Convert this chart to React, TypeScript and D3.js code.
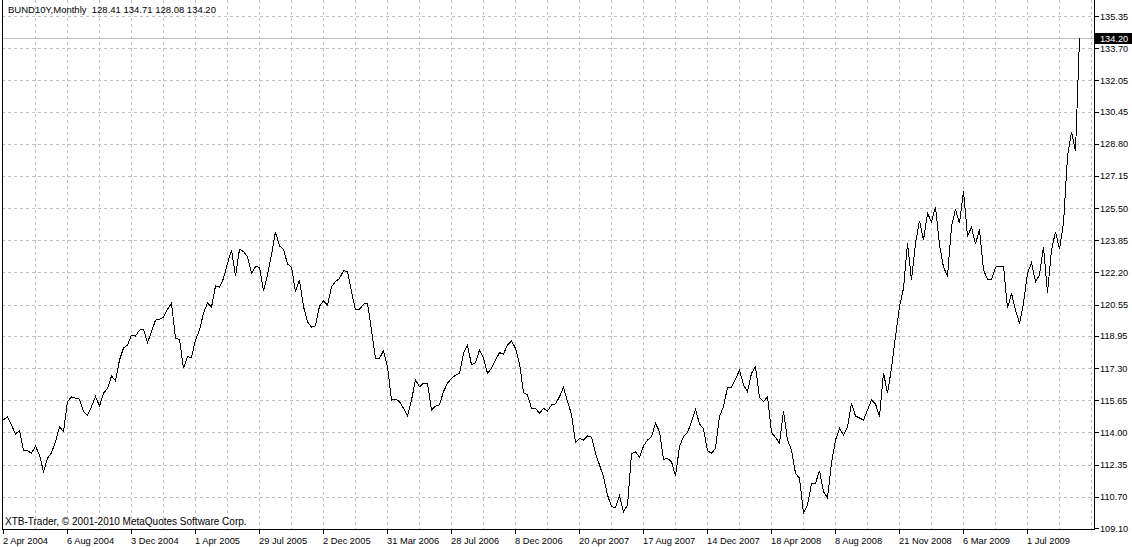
import React, { useRef, useEffect } from 'react';
import * as d3 from 'd3';

// header / info texts
const symbolName = "BUND10Y,Monthly";
const lastBar = ["128.41", "134.71", "128.08", "134.20"];
const copyright = "XTB-Trader, \u00A9 2001-2010 MetaQuotes Software Corp.";

// close of every bar, left to right
const closes = [
    114.64, 114.81, 114.38, 113.92, 114.09, 113.06, 113.06, 112.93, 113.30, 112.84,
    111.99, 112.67, 112.96, 113.52, 114.29, 114.04, 115.58, 115.83, 115.75, 115.71,
    115.06, 114.89, 115.32, 115.83, 115.35, 116.01, 116.26, 116.89, 116.65, 117.71,
    118.33, 118.48, 118.99, 118.94, 119.25, 119.29, 118.60, 119.16, 119.76, 119.80,
    119.90, 120.31, 120.62, 118.83, 118.77, 117.29, 117.88, 117.85, 118.74, 119.25,
    120.11, 120.65, 120.42, 121.51, 121.44, 121.90, 122.67, 123.35, 122.02, 123.39,
    123.27, 123.01, 122.16, 122.50, 122.47, 121.27, 122.07, 123.10, 124.29, 123.56,
    123.39, 122.64, 122.47, 121.22, 121.81, 120.45, 119.68, 119.39, 119.46, 120.48,
    120.75, 120.53, 121.47, 121.73, 121.90, 122.29, 122.24, 121.22, 120.28, 120.31,
    120.58, 120.62, 119.25, 117.80, 117.80, 118.19, 117.37, 115.66, 115.70, 115.58,
    115.24, 114.84, 115.66, 116.69, 116.34, 116.52, 116.52, 115.15, 115.35, 115.42,
    116.09, 116.52, 116.77, 116.94, 117.03, 118.06, 118.48, 117.46, 117.57, 118.23,
    117.80, 117.03, 117.29, 117.71, 118.09, 118.02, 118.48, 118.70, 118.31, 117.54,
    116.04, 115.92, 115.24, 115.24, 114.98, 115.24, 115.10, 115.41, 115.46, 115.83,
    116.31, 115.58, 114.94, 113.47, 113.70, 113.61, 113.82, 113.75, 112.93, 112.33,
    111.73, 110.79, 110.19, 110.16, 110.74, 109.94, 110.28, 112.89, 113.01, 112.72,
    113.30, 113.61, 113.78, 114.47, 114.04, 112.62, 112.67, 112.50, 111.77, 113.27,
    113.78, 113.99, 114.55, 115.19, 114.43, 114.18, 113.07, 112.93, 113.19, 114.81,
    115.32, 116.31, 116.31, 116.72, 117.20, 116.43, 116.09, 117.03, 117.37, 115.80,
    115.58, 115.83, 113.99, 113.75, 113.44, 115.11, 113.61, 113.10, 111.90, 111.65,
    109.88, 110.28, 111.36, 111.39, 112.04, 110.96, 110.65, 112.42, 113.61, 114.21,
    113.87, 114.29, 115.51, 114.84, 114.74, 114.64, 115.15, 115.66, 115.46, 114.81,
    117.06, 116.01, 117.29, 118.91, 120.45, 121.39, 123.70, 121.81, 123.70, 124.86,
    123.87, 125.23, 124.80, 125.57, 123.61, 122.47, 122.02, 124.55, 125.44, 124.72,
    126.39, 124.07, 124.52, 123.66, 124.41, 122.33, 121.85, 121.85, 122.47, 122.53,
    122.53, 120.36, 121.13, 120.28, 119.59, 120.62, 122.16, 122.70, 121.73, 122.07,
    123.52, 121.16, 123.35, 124.29, 123.39, 124.72, 128.14, 129.42, 128.41, 134.20
];

// one date label every 16 bars
const dateLabels = [
    "2 Apr 2004", "6 Aug 2004", "3 Dec 2004", "1 Apr 2005", "29 Jul 2005",
    "2 Dec 2005", "31 Mar 2006", "28 Jul 2006", "8 Dec 2006", "20 Apr 2007",
    "17 Aug 2007", "14 Dec 2007", "18 Apr 2008", "8 Aug 2008", "21 Nov 2008",
    "6 Mar 2009", "1 Jul 2009"
];

const priceLabels = [
    "135.35", "133.70", "132.05", "130.45", "128.80", "127.15", "125.50", "123.85",
    "122.20", "120.55", "118.95", "117.30", "115.65", "114.00", "112.35", "110.70", "109.10"
];

const width = 1132;
const height = 547;
const frame = { left: 2, right: 1094, top: 0, bottom: 529 };
const font = "'Liberation Sans', Arial, sans-serif";

export default function App() {
    const svgRef = useRef(null);

    useEffect(() => {
        if (!svgRef.current) return;
        const svg = d3.select(svgRef.current);
        svg.selectAll("*").remove();

        const xScale = d3.scaleLinear()
            .domain([0, closes.length - 1])
            .range([3, 3 + 4 * (closes.length - 1)]);
        const yScale = d3.scaleLinear()
            .domain([109.10, 135.35])
            .range([528, 16]);

        svg.append("rect")
            .attr("width", width).attr("height", height).attr("fill", "white");

        /* dashed grid */
        const grid = svg.append("g")
            .attr("stroke", "#c0c0c0")
            .attr("stroke-dasharray", "3,3")
            .attr("shape-rendering", "crispEdges");
        const vIdx: number[] = [];
        for (let i = 8; xScale(i) < frame.right; i += 8) vIdx.push(i);
        grid.selectAll("line.v").data(vIdx).enter().append("line")
            .attr("x1", d => Math.round(xScale(d)) + 0.5)
            .attr("x2", d => Math.round(xScale(d)) + 0.5)
            .attr("y1", frame.top).attr("y2", frame.bottom);
        grid.selectAll("line.h").data(priceLabels.slice(0, -1)).enter().append("line")
            .attr("x1", frame.left).attr("x2", frame.right)
            .attr("y1", d => Math.round(yScale(+d)) + 0.5)
            .attr("y2", d => Math.round(yScale(+d)) + 0.5);

        /* current price line */
        const last = closes[closes.length - 1];
        svg.append("line")
            .attr("x1", frame.left).attr("x2", frame.right)
            .attr("y1", Math.round(yScale(last)) + 0.5)
            .attr("y2", Math.round(yScale(last)) + 0.5)
            .attr("stroke", "#c0c0c0")
            .attr("shape-rendering", "crispEdges");

        /* price line */
        const line = d3.line<number>()
            .x((d, i) => xScale(i) + 0.5)
            .y(d => yScale(d));
        svg.append("path")
            .datum(closes)
            .attr("d", line)
            .attr("fill", "none")
            .attr("stroke", "black")
            .attr("stroke-width", 1)
            .attr("shape-rendering", "crispEdges");

        /* frame */
        const axes = svg.append("g")
            .attr("stroke", "black")
            .attr("shape-rendering", "crispEdges");
        axes.append("line")
            .attr("x1", frame.left + 0.5).attr("x2", frame.left + 0.5)
            .attr("y1", frame.top).attr("y2", frame.bottom + 0.5);
        axes.append("line")
            .attr("x1", frame.right + 0.5).attr("x2", frame.right + 0.5)
            .attr("y1", frame.top).attr("y2", frame.bottom + 0.5);
        axes.append("line")
            .attr("x1", frame.left).attr("x2", frame.right + 1)
            .attr("y1", frame.bottom + 0.5).attr("y2", frame.bottom + 0.5);

        /* price axis */
        axes.selectAll("line.yt").data(priceLabels).enter().append("line")
            .attr("x1", frame.right).attr("x2", frame.right + 5)
            .attr("y1", d => Math.round(yScale(+d)) + 0.5)
            .attr("y2", d => Math.round(yScale(+d)) + 0.5);
        svg.append("g").selectAll("text").data(priceLabels).enter().append("text")
            .attr("x", frame.right + 6)
            .attr("y", d => yScale(+d) + 3.5)
            .attr("font-family", font)
            .attr("font-size", 9.2)
            .attr("fill", "black")
            .text(d => d);

        /* time axis */
        axes.selectAll("line.xt").data(dateLabels).enter().append("line")
            .attr("x1", (d, i) => Math.round(xScale(i * 16)) + 0.5)
            .attr("x2", (d, i) => Math.round(xScale(i * 16)) + 0.5)
            .attr("y1", frame.bottom).attr("y2", frame.bottom + 5);
        svg.append("g").selectAll("text").data(dateLabels).enter().append("text")
            .attr("x", (d, i) => xScale(i * 16))
            .attr("y", 544)
            .attr("font-family", font)
            .attr("font-size", 9.3)
            .attr("fill", "black")
            .text(d => d);

        /* last price marker */
        const ly = yScale(last);
        svg.append("rect")
            .attr("x", frame.right + 1).attr("y", Math.round(ly) - 5)
            .attr("width", width - frame.right - 1).attr("height", 11)
            .attr("fill", "black");
        svg.append("text")
            .attr("x", frame.right + 6).attr("y", ly + 4)
            .attr("font-family", font).attr("font-size", 9.2)
            .attr("fill", "white")
            .text(last.toFixed(2));

        /* header + copyright */
        svg.append("text")
            .attr("x", 8).attr("y", 13)
            .attr("font-family", font).attr("font-size", 9.5)
            .attr("fill", "black")
            .attr("xml:space", "preserve")
            .text(symbolName + "  " + lastBar.join(" "));
        svg.append("text")
            .attr("x", 5).attr("y", 525)
            .attr("font-family", font).attr("font-size", 10)
            .attr("fill", "black")
            .text(copyright);
    }, []);

    return (
        <>
            <style>{`body{margin:0}`}</style>
            <svg ref={svgRef} width={width} height={height} style={{ display: 'block' }} />
        </>
    );
}
